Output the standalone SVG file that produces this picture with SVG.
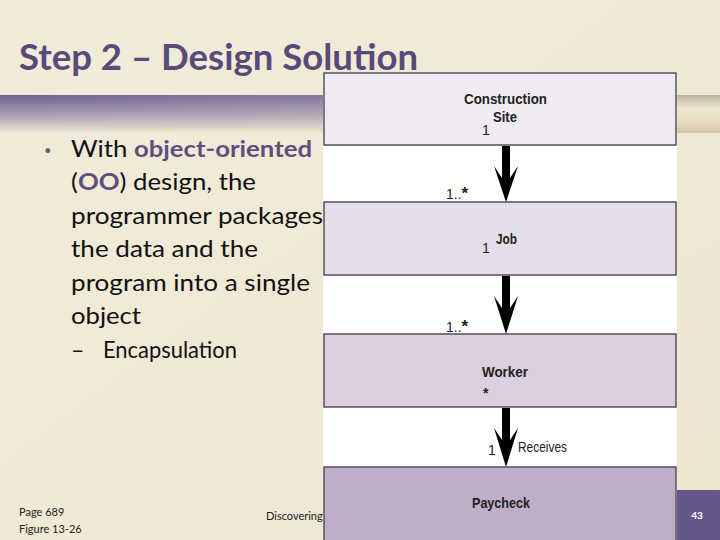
<svg xmlns="http://www.w3.org/2000/svg" width="720" height="540" viewBox="0 0 720 540">
<defs>
<linearGradient id="bg" x1="0" y1="0" x2="1" y2="1">
<stop offset="0" stop-color="#f1ecda"/>
<stop offset="1" stop-color="#ede5d0"/>
</linearGradient>
<linearGradient id="barV" x1="0" y1="0" x2="0" y2="1">
<stop offset="0" stop-color="#6e6090"/>
<stop offset="0.55" stop-color="#a99fb4"/>
<stop offset="1" stop-color="#ebe4d0"/>
</linearGradient>
<linearGradient id="barH" x1="0" y1="0" x2="1" y2="0">
<stop offset="0" stop-color="#ece5d2" stop-opacity="0"/>
<stop offset="1" stop-color="#ece5d2" stop-opacity="0.35"/>
</linearGradient>
<linearGradient id="barR" x1="0" y1="0" x2="0" y2="1">
<stop offset="0" stop-color="#bdb4a4"/>
<stop offset="0.35" stop-color="#efe8cf"/>
<stop offset="0.75" stop-color="#e6dcbc"/>
<stop offset="1" stop-color="#d2c7a6"/>
</linearGradient>
<style>
.box{stroke:#55505c;stroke-width:1.5}
.lbl{font-family:"Liberation Sans",Arial,sans-serif;font-size:14px;font-weight:bold;fill:#222}
.mult{font-family:"Liberation Sans",Arial,sans-serif;font-size:14px;fill:#222}
.body{font-family:Lato,"Liberation Sans",sans-serif;font-size:23px;fill:#111}
.hl{fill:#5e4f80;font-weight:bold}
.foot{font-family:Lato,"Liberation Sans",sans-serif;font-size:11px;fill:#222}
.arrow{fill:#000}
</style>
</defs>
<rect width="720" height="540" fill="url(#bg)"/>
<rect x="0" y="95" width="720" height="37" fill="url(#barV)"/>
<rect x="0" y="95" width="720" height="37" fill="url(#barH)"/>
<rect x="677" y="95" width="43" height="38" fill="url(#barR)"/>
<text x="19" y="70" font-family="Lato,'Liberation Sans',sans-serif" font-size="36" font-weight="bold" fill="#5a4a7a" textLength="399" lengthAdjust="spacingAndGlyphs">Step 2 – Design Solution</text>
<g id="bullets">
<text x="44" y="155" font-family="Lato,'Liberation Sans',sans-serif" font-size="13" fill="#666">•</text>
<text x="71" y="157" class="body" textLength="241" lengthAdjust="spacingAndGlyphs">With <tspan class="hl">object-oriented</tspan></text>
<text x="71" y="190" class="body" textLength="185" lengthAdjust="spacingAndGlyphs">(<tspan class="hl">OO</tspan>) design, the</text>
<text x="71" y="224" class="body" textLength="252" lengthAdjust="spacingAndGlyphs">programmer packages</text>
<text x="71" y="257" class="body" textLength="187" lengthAdjust="spacingAndGlyphs">the data and the</text>
<text x="71" y="291" class="body" textLength="239" lengthAdjust="spacingAndGlyphs">program into a single</text>
<text x="71" y="324" class="body" textLength="70" lengthAdjust="spacingAndGlyphs">object</text>
<text x="71" y="358" class="body" font-size="19">–</text>
<text x="103" y="358" class="body" font-size="19" textLength="134" lengthAdjust="spacingAndGlyphs">Encapsulation</text>
</g>
<rect x="323" y="72" width="354" height="468" fill="#ffffff"/>
<g id="construction-site">
<rect class="box" x="324" y="73" width="352" height="72" fill="#f0ebf3"/>
<text class="lbl" x="464" y="104" textLength="83" lengthAdjust="spacingAndGlyphs">Construction</text>
<text class="lbl" x="493" y="122" textLength="24" lengthAdjust="spacingAndGlyphs">Site</text>
<text class="mult" x="482" y="135">1</text>
</g>
<g id="job">
<rect class="box" x="324" y="202" width="352" height="73" fill="#e6dfeb"/>
<text class="lbl" x="496" y="244" textLength="21" lengthAdjust="spacingAndGlyphs">Job</text>
<text class="mult" x="482" y="253">1</text>
</g>
<g id="worker">
<rect class="box" x="324" y="334" width="352" height="73" fill="#dccfe0"/>
<text class="lbl" x="482" y="377" textLength="46" lengthAdjust="spacingAndGlyphs">Worker</text>
<text class="lbl" x="483" y="398" font-size="17">*</text>
</g>
<g id="paycheck">
<rect class="box" x="324" y="467" width="352" height="75" fill="#c0aec8"/>
<text class="lbl" x="472" y="508" textLength="58" lengthAdjust="spacingAndGlyphs">Paycheck</text>
</g>
<g id="connectors">
<path class="arrow" d="M502,146 L510,146 L510,178 L518,166 L506,202 L494,166 L502,178 Z"/>
<text class="mult" x="446" y="199">1..<tspan font-size="17" font-weight="bold">*</tspan></text>
<path class="arrow" d="M502,276 L510,276 L510,308 L518,296 L506,334 L494,296 L502,308 Z"/>
<text class="mult" x="446" y="332">1..<tspan font-size="17" font-weight="bold">*</tspan></text>
<path class="arrow" d="M502,408 L510,408 L510,440 L518,428 L506,467 L494,428 L502,440 Z"/>
<text class="mult" x="488" y="455">1</text>
<text class="mult" x="518" y="452" textLength="49" lengthAdjust="spacingAndGlyphs">Receives</text>
</g>
<rect x="677" y="490" width="43" height="50" fill="#65578a"/>
<text x="697" y="519" text-anchor="middle" font-family="Lato,'Liberation Sans',sans-serif" font-size="10" font-weight="bold" fill="#ffffff">43</text>
<text class="foot" x="19" y="516">Page 689</text>
<text class="foot" x="19" y="533">Figure 13-26</text>
<text class="foot" x="266" y="520">Discovering</text>
</svg>
